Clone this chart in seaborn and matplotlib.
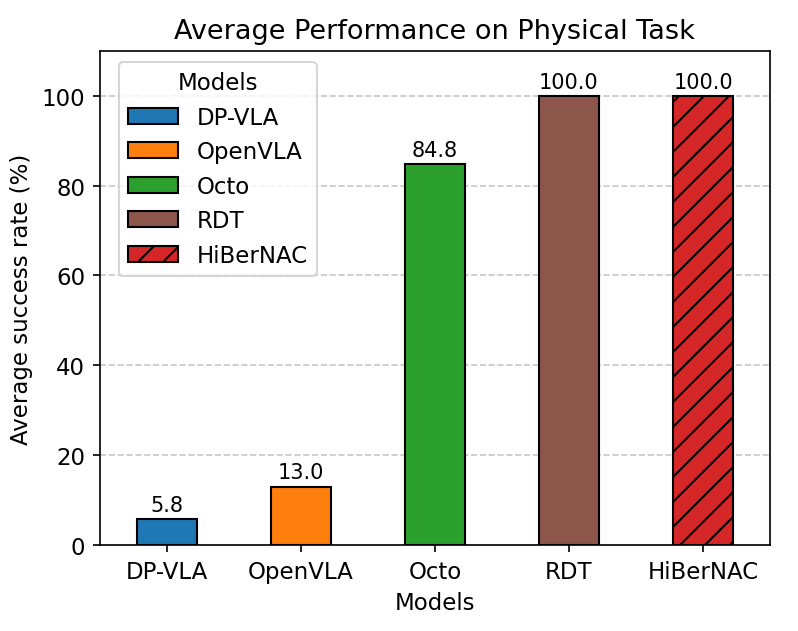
import matplotlib
matplotlib.use("Agg")
import matplotlib.pyplot as plt
from matplotlib.patches import Patch
import seaborn as sns
import pandas as pd

models = ["DP-VLA", "OpenVLA", "Octo", "RDT", "HiBerNAC"]
success = [5.8, 13.0, 84.8, 100.0, 100.0]
colors = ["#1f77b4", "#ff7f0e", "#2ca02c", "#8c564b", "#d62728"]
hatches = ["", "", "", "", "//"]

df = pd.DataFrame({"Models": models, "success": success})

fig, ax = plt.subplots(figsize=(5.32, 4.213), dpi=150)
sns.barplot(data=df, x="Models", y="success", hue="Models", palette=colors,
            saturation=1, edgecolor="black", linewidth=1, width=0.45,
            legend=False, ax=ax, zorder=2)

for bar, h in zip(ax.patches, hatches):
    bar.set_hatch(h)

for cont in ax.containers:
    ax.bar_label(cont, fmt="%.1f", padding=2, fontsize=10)

ax.set_ylim(0, 110)
ax.set_title("Average Performance on Physical Task", fontsize=13)
ax.set_xlabel("Models", fontsize=11)
ax.set_ylabel("Average success rate (%)", fontsize=11)
ax.tick_params(labelsize=11)
ax.yaxis.grid(True, linestyle="--", alpha=0.7, zorder=0)
ax.set_axisbelow(True)

handles = [Patch(facecolor=c, edgecolor="black", hatch=h, label=m)
           for m, c, h in zip(models, colors, hatches)]
ax.legend(handles=handles, title="Models", loc="upper left", fontsize=11,
          title_fontsize=11, bbox_to_anchor=(0.011, 1.0), handlelength=2.2)

fig.subplots_adjust(left=0.125, right=0.965, top=0.918, bottom=0.136)
fig.savefig("out.png", dpi=150)
